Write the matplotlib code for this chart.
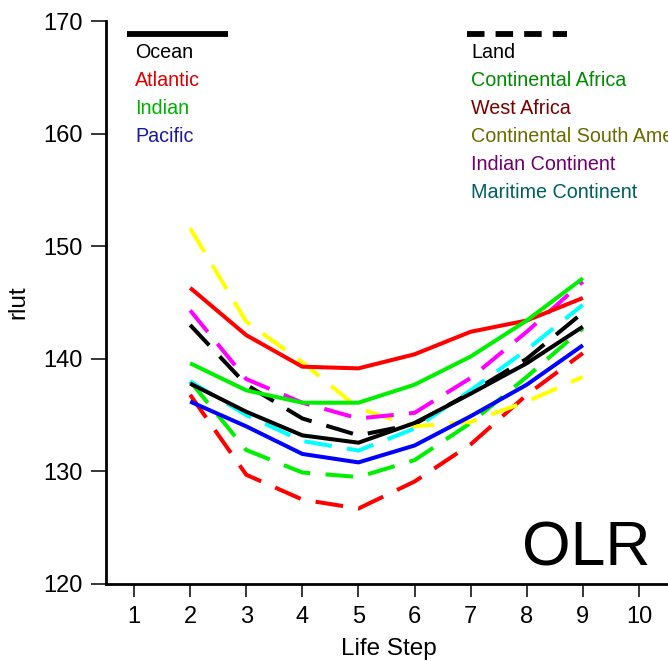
import matplotlib
matplotlib.use("Agg")
import matplotlib.pyplot as plt
from matplotlib.lines import Line2D

plt.rcParams['font.family'] = ['Liberation Sans', 'DejaVu Sans']

# Life-cycle steps of the tracked systems
steps = [2, 3, 4, 5, 6, 7, 8, 9]

# Ocean regions (solid lines)
ocean_all = [137.8, 135.3, 133.2, 132.55, 134.3, 136.9, 139.6, 142.85]
atlantic = [146.3, 142.1, 139.3, 139.15, 140.4, 142.4, 143.4, 145.4]
indian = [139.6, 137.2, 136.1, 136.1, 137.7, 140.2, 143.4, 147.15]
pacific = [136.2, 134.0, 131.55, 130.8, 132.3, 134.9, 137.7, 141.2]

# Land regions (dashed lines)
land_all = [143.0, 137.7, 134.7, 133.2, 134.2, 137.0, 140.0, 144.1]
cont_africa = [138.0, 131.9, 129.9, 129.5, 131.0, 134.3, 138.4, 142.7]
west_africa = [136.8, 129.7, 127.5, 126.7, 129.1, 132.4, 136.8, 140.5]
cont_s_america = [151.6, 143.3, 139.7, 135.6, 134.0, 134.4, 136.2, 138.4]
indian_cont = [144.3, 138.2, 136.1, 134.7, 135.2, 138.3, 142.4, 146.85]
maritime_cont = [138.0, 135.0, 132.7, 131.85, 133.8, 137.2, 140.8, 144.8]

ocean_labels = ["Atlantic", "Indian", "Pacific"]
land_labels = ["Continental Africa", "West Africa", "Continental South America",
               "Indian Continent", "Maritime Continent"]

xticks = list(range(1, 11))
yticks = [120, 130, 140, 150, 160, 170]

W, H = 668, 661
fig = plt.figure(figsize=(W / 100, H / 100), dpi=100)

# axes geometry in pixels
ax_left, ax_bottom_px, ax_top_px = 106, 584, 21
xmin, xmax = 0.5, 10.6
px_per_unit = 56.1
ax_w = px_per_unit * (xmax - xmin)
ax = fig.add_axes([ax_left / W, (H - ax_bottom_px) / H,
                   ax_w / W, (ax_bottom_px - ax_top_px) / H])
ax.set_xlim(xmin, xmax)
ax.set_ylim(120, 170)

lw = 2.9
dash = (6.9, 3.8)

ocean_series = [(ocean_all, "black"), (atlantic, "#ff0000"),
                (indian, "#00f000"), (pacific, "#0000ff")]
land_series = [(land_all, "black"), (cont_africa, "#00f000"),
               (west_africa, "#ff0000"), (cont_s_america, "#ffff00"),
               (indian_cont, "#ff00ff"), (maritime_cont, "#00ffff")]

for vals, c in land_series:
    ax.plot(steps, vals, color=c, lw=lw, dashes=dash, dash_capstyle='butt',
            dash_joinstyle='miter')
for vals, c in ocean_series:
    ax.plot(steps, vals, color=c, lw=lw, solid_joinstyle='round',
            solid_capstyle='butt')

for s in ["top", "right"]:
    ax.spines[s].set_visible(False)
for s in ["left", "bottom"]:
    ax.spines[s].set_linewidth(2.0)

ax.set_xticks(xticks)
ax.set_yticks(yticks)
ax.tick_params(axis='both', direction='out', width=1.1,
               labelsize=17, color='black')
ax.tick_params(axis='x', length=9.5, pad=6.5)
ax.tick_params(axis='y', length=10.5, pad=6)
ax.set_xlabel("Life Step", fontsize=17.5, labelpad=7)
ax.set_ylabel("rlut", fontsize=17.5, labelpad=10)


def fx(px):
    return (px - ax_left) / ax_w


def fy(py):
    return (ax_bottom_px - py) / (ax_bottom_px - ax_top_px)


# group keys
ax.add_line(Line2D([fx(127), fx(228)], [fy(34), fy(34)], transform=ax.transAxes,
                   color='black', lw=4.2, solid_capstyle='butt', clip_on=False))
ax.add_line(Line2D([fx(467), fx(567)], [fy(34), fy(34)], transform=ax.transAxes,
                   color='black', lw=4.2, dashes=(3.0, 1.9), dash_capstyle='butt',
                   clip_on=False))

ocean_text_colors = ["black", "#e00000", "#00b000", "#1a1aa0"]
land_text_colors = ["black", "#008a00", "#7a0000", "#6a6a00", "#700070", "#006060"]

fs_key = 14.2
for i, (txt, c) in enumerate(zip(["Ocean"] + ocean_labels, ocean_text_colors)):
    ax.text(fx(135), fy(53 + 28 * i), txt, transform=ax.transAxes, color=c,
            fontsize=fs_key, ha='left', va='center', clip_on=False)
for i, (txt, c) in enumerate(zip(["Land"] + land_labels, land_text_colors)):
    ax.text(fx(471), fy(53 + 28 * i), txt, transform=ax.transAxes, color=c,
            fontsize=fs_key, ha='left', va='center', clip_on=False)

ax.text(fx(522), fy(566), "OLR", transform=ax.transAxes, fontsize=45,
        ha='left', va='baseline', color='black')

fig.savefig("out.png", dpi=100)
